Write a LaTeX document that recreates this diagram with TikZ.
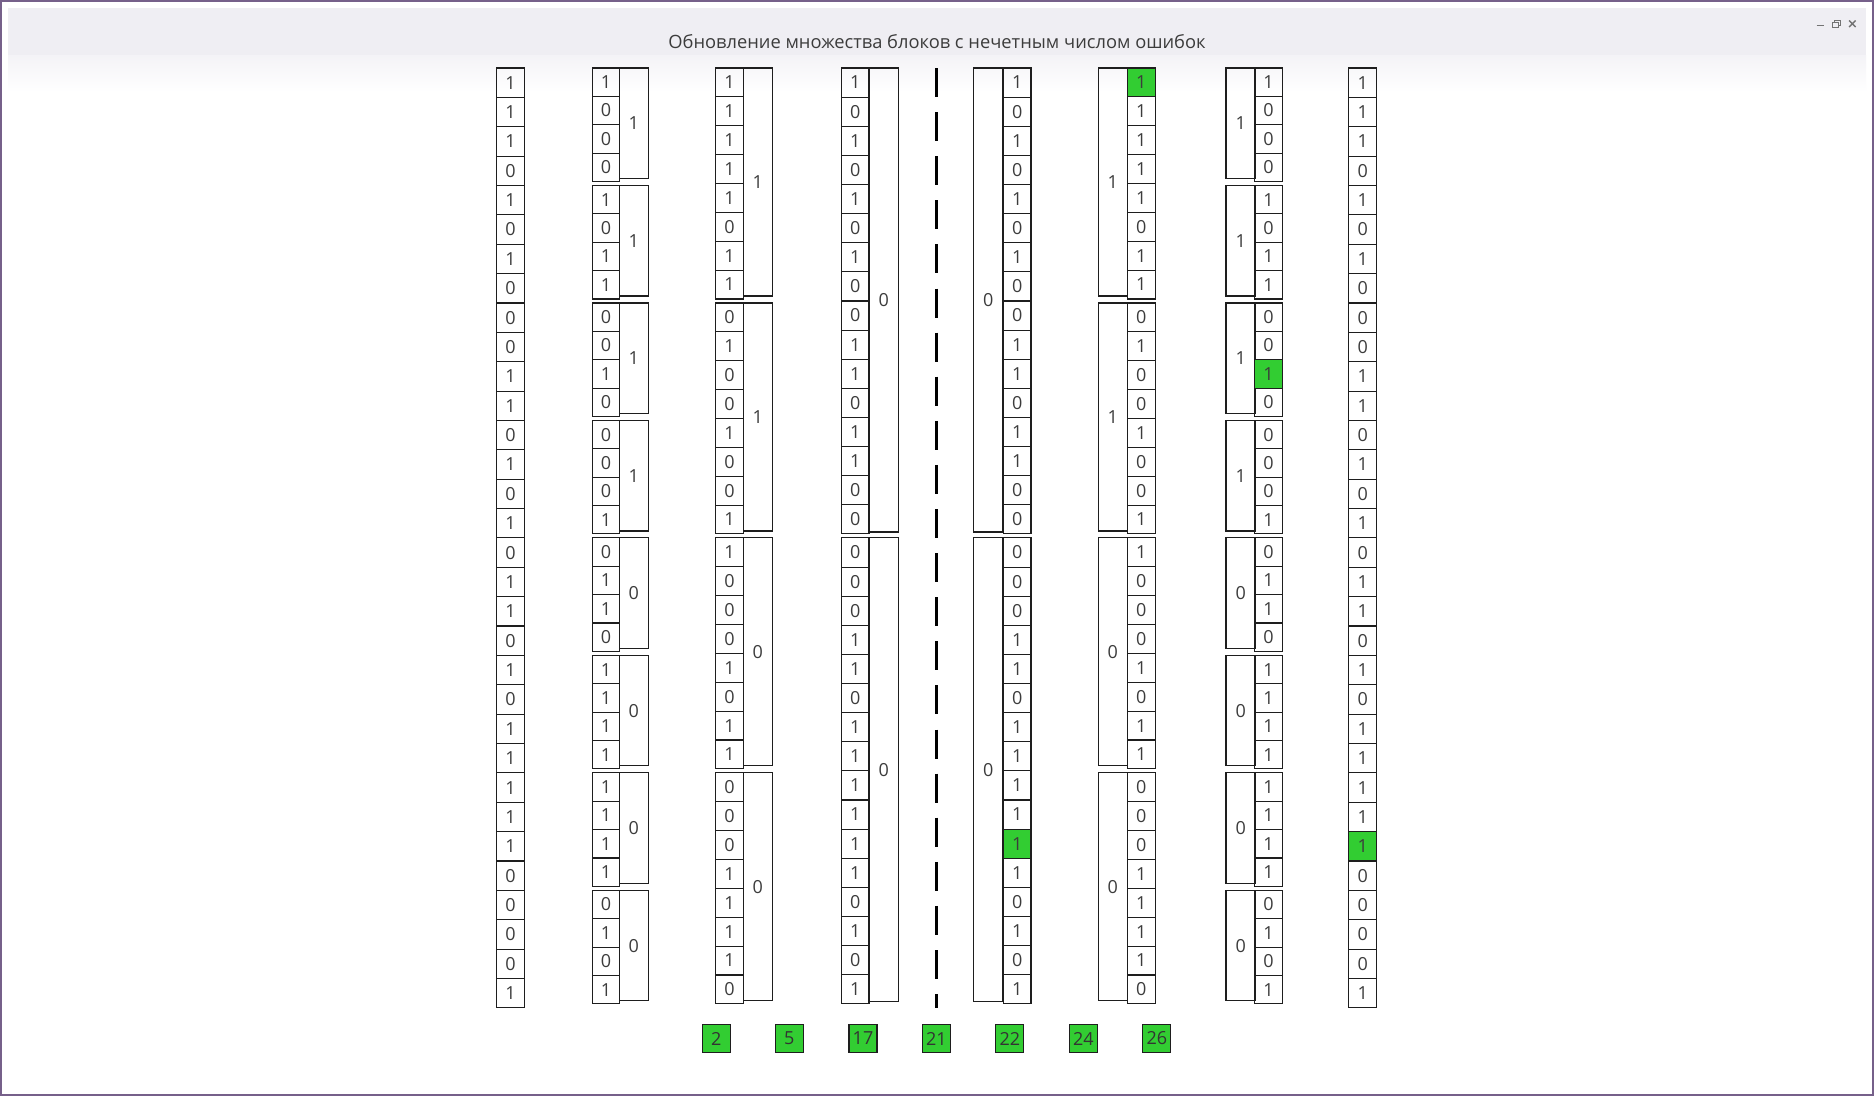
\documentclass[tikz,border=0pt]{standalone}
\usepackage{fontspec}
\setmainfont{Open Sans}
\definecolor{okgreen}{RGB}{50,205,50}
\definecolor{winframe}{RGB}{118,96,138}
\definecolor{barbg}{RGB}{239,238,243}
\definecolor{digit}{RGB}{60,60,60}
\definecolor{cellline}{RGB}{30,30,30}
\tikzset{
  bit/.style={draw=cellline, line width=1.1pt, minimum width=27.6pt,
    minimum height=#1, inner sep=0pt, text=digit,
    font=\fontsize{18}{18}\selectfont},
  parity/.style={bit=#1, minimum width=29.4pt},
  hit/.style={fill=okgreen},
  errbox/.style={bit=28, minimum width=28pt, fill=okgreen, text=black!80}
}

\begin{document}
\begin{tikzpicture}[x=1pt,y=-1pt]
  \useasboundingbox (0,0) rectangle (1874,1096);
  % window
  \fill[white] (0,0) rectangle (1874,1096);
  \fill[barbg] (8,8) rectangle (1866,55);
  \shade[top color=barbg!70!white, bottom color=white] (8,55) rectangle (1866,92);
  \draw[winframe, line width=2pt] (1,1) rectangle (1873,1095);
  \node[font=\fontsize{18.3}{21}\selectfont, text=digit] (title) at (937,42)
    {Обновление множества блоков с нечетным числом ошибок};
  % window buttons
  \begin{scope}[draw=black!55, line width=1.4pt]
    \draw (1816.5,25.5) -- (1824,25.5);
    \draw[line width=1.1pt] (1832.5,22.5) rectangle (1838.5,27.5);
    \draw[line width=1.1pt] (1834.5,22.5) -- (1834.5,20.5) -- (1840.5,20.5) -- (1840.5,25.5) -- (1838.5,25.5);
    \draw (1849,20.5) -- (1855.5,27) (1849,27) -- (1855.5,20.5);
  \end{scope}

  % received word
  \foreach \b [count=\i] in {1,1,1,0,1,0,1,0,0,0,1,1,0,1,0,1,0,1,1,0,1,0,1,1,1,1,1,0,0,0,0,1}
    \node[bit=29.37] (A\i) at (510.5,{68+29.37*(\i-0.5)}) {\b};

  % blocks of 4, parity right
  \foreach \b [count=\i] in {1,0,0,0,1,0,1,1,0,0,1,0,0,0,0,1,0,1,1,0,1,1,1,1,1,1,1,1,0,1,0,1}
    \node[bit=28.37] (B\i) at (606,{68+117.48*int((\i-1)/4)+28.37*(mod(\i-1,4)+0.5)}) {\b};
  \foreach \p [count=\j] in {1,1,1,1,0,0,0,0}
    \node[parity=110.5] (BP\j) at (633.8,{68+117.48*(\j-1)+55.25}) {\p};

  % blocks of 8, parity right
  \foreach \b [count=\i] in {1,1,1,1,1,0,1,1,0,1,0,0,1,0,0,1,1,0,0,0,1,0,1,1,0,0,0,1,1,1,1,0}
    \node[bit=28.87] (C\i) at (729.5,{68+234.96*int((\i-1)/8)+28.87*(mod(\i-1,8)+0.5)}) {\b};
  \foreach \p [count=\j] in {1,1,0,0}
    \node[parity=228] (CP\j) at (757.8,{68+234.96*(\j-1)+114}) {\p};

  % blocks of 16, parity right
  \foreach \b [count=\i] in {1,0,1,0,1,0,1,0,0,1,1,0,1,1,0,0,0,0,0,1,1,0,1,1,1,1,1,1,0,1,0,1}
    \node[bit=29.12] (D\i) at (855.2,{68+469.92*int((\i-1)/16)+29.12*(mod(\i-1,16)+0.5)}) {\b};
  \foreach \p [count=\j] in {0,0}
    \node[parity=464] (DP\j) at (883.7,{68+469.92*(\j-1)+232}) {\p};

  % separator
  \coordinate (S1) at (936.7,68);
  \coordinate (S2) at (936.7,1008);
  \draw[line width=3pt, dash pattern=on 29pt off 15.1pt] (S1) -- (S2);

  % blocks of 16, parity left
  \foreach \b [count=\i] in {1,0,1,0,1,0,1,0,0,1,1,0,1,1,0,0,0,0,0,1,1,0,1,1,1,1,1,1,0,1,0,1}
    \node[bit=29.12] (E\i) at (1017.2,{68+469.92*int((\i-1)/16)+29.12*(mod(\i-1,16)+0.5)}) {\b};
  \foreach \p [count=\j] in {0,0}
    \node[parity=464] (EP\j) at (988.2,{68+469.92*(\j-1)+232}) {\p};

  % blocks of 8, parity left
  \foreach \b [count=\i] in {1,1,1,1,1,0,1,1,0,1,0,0,1,0,0,1,1,0,0,0,1,0,1,1,0,0,0,1,1,1,1,0}
    \node[bit=28.87] (F\i) at (1141.3,{68+234.96*int((\i-1)/8)+28.87*(mod(\i-1,8)+0.5)}) {\b};
  \foreach \p [count=\j] in {1,1,0,0}
    \node[parity=228] (FP\j) at (1112.8,{68+234.96*(\j-1)+114}) {\p};

  % blocks of 4, parity left
  \foreach \b [count=\i] in {1,0,0,0,1,0,1,1,0,0,1,0,0,0,0,1,0,1,1,0,1,1,1,1,1,1,1,1,0,1,0,1}
    \node[bit=28.37] (G\i) at (1268.5,{68+117.48*int((\i-1)/4)+28.37*(mod(\i-1,4)+0.5)}) {\b};
  \foreach \p [count=\j] in {1,1,1,1,0,0,0,0}
    \node[parity=110.5] (GP\j) at (1240.7,{68+117.48*(\j-1)+55.25}) {\p};

  % corrected word
  \foreach \b [count=\i] in {1,1,1,0,1,0,1,0,0,0,1,1,0,1,0,1,0,1,1,0,1,0,1,1,1,1,1,0,0,0,0,1}
    \node[bit=29.37] (H\i) at (1362.7,{68+29.37*(\i-0.5)}) {\b};

  % flipped bits
  \node[bit=29.12, hit] (EX) at (E27) {1};
  \node[bit=28.87, hit] (FX) at (F1) {1};
  \node[bit=28.37, hit] (GX) at (G11) {1};
  \node[bit=29.37, hit] (HX) at (H27) {1};

  % error positions
  \foreach \n/\x in {2/716.3,5/789.3,17/863,21/936.3,22/1009.8,24/1083.3,26/1156.8}
    \node[errbox] (N\n) at (\x,1038.5) {\n};
\end{tikzpicture}
\end{document}
